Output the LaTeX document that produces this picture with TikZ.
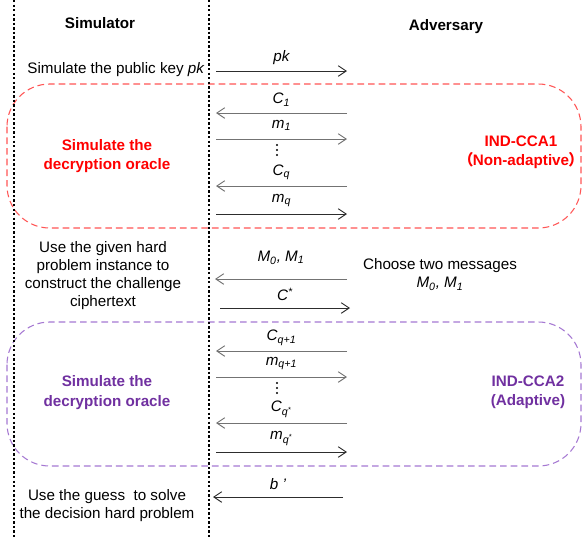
\documentclass[tikz,border=0pt]{standalone}
\usepackage{fontspec}
\setmainfont{Liberation Sans}
\newfontfamily\cjkfont{Noto Sans CJK SC}
\usetikzlibrary{arrows.meta, positioning}

\definecolor{oraclered}{RGB}{255,0,0}
\definecolor{boxred}{RGB}{255,85,85}
\definecolor{oraclepurple}{RGB}{112,48,160}
\definecolor{boxpurple}{RGB}{165,120,210}
\definecolor{msggray}{RGB}{115,115,115}
\definecolor{msgdark}{RGB}{45,45,45}

\newcommand{\sbs}[1]{\textsubscript{#1}}

\begin{document}
\begin{tikzpicture}[
    x=0.75pt, y=-0.75pt,
    font=\fontsize{11.4pt}{13.6pt}\selectfont,
    head/.style={font=\fontsize{11.4pt}{13.6pt}\selectfont\bfseries, inner sep=0pt},
    txt/.style={align=center, inner sep=0pt},
    oracle/.style={txt, font=\fontsize{11.4pt}{14.4pt}\selectfont\bfseries},
    life/.style={line width=2pt, dash pattern=on 1.8pt off 1.6pt},
    phase/.style={dash pattern=on 5pt off 3pt, line width=0.8pt, rounded corners=32pt},
    msg/.style={-{Straight Barb[length=6pt, width=8pt]}, line width=0.7pt, msggray},
    msgd/.style={msg, msgdark},
    lab/.style={font=\fontsize{11.4pt}{13.6pt}\selectfont\itshape, text=black, inner sep=0pt, midway, yshift=10pt},
    dot/.style={fill=black}
]
\useasboundingbox (0,0) rectangle (582,537);

% ===== PHASE BOXES =====
\draw[phase, boxred] (7,84) rectangle (581,228);
\draw[phase, boxpurple] (7,322) rectangle (581,466);

% ===== LIFELINES =====
\coordinate (simTop) at (14,0);
\coordinate (simBot) at (14,537);
\coordinate (advTop) at (209,0);
\coordinate (advBot) at (209,537);
\draw[life] (simTop) -- (simBot);
\draw[life] (advTop) -- (advBot);

\node[head] (SIM) at (100,23) {Simulator};
\node[head] (ADV) at (446,27) {Adversary};

% ===== SETUP =====
\node[txt] (PKTXT) at (116,70) {Simulate the public key \textit{pk}};
\coordinate (pkS) at (216,71);
\coordinate (pkA) at (347,71);
\draw[msgd] (pkS) -- (pkA) node[lab] (PKL) {pk};

% ===== QUERY PHASE 1 =====
\node[oracle, oraclered] (ORC1) at (107,156) {Simulate the\\decryption oracle};
\node[oracle, oraclered] (CCA1) at (521,152)
  {IND-CCA1\\\hspace*{-0.6em}{\cjkfont （}\kern-0.05em Non-adaptive\kern-0.05em{\cjkfont ）}\hspace*{-0.6em}};

\coordinate (c1S) at (216,113);  \coordinate (c1A) at (347,113);
\coordinate (m1S) at (216,139);  \coordinate (m1A) at (347,139);
\coordinate (cqS) at (216,186);  \coordinate (cqA) at (347,186);
\coordinate (mqS) at (216,214);  \coordinate (mqA) at (347,214);
\draw[msg] (c1A) -- (c1S) node[lab] (C1L) {C\sbs{1}};
\draw[msg] (m1S) -- (m1A) node[lab] (M1L) {m\sbs{1}};
\coordinate (dots1) at (277,150);
\foreach \dy in {-5,0,5} \fill[dot] ([yshift=\dy*0.75pt]dots1) circle (0.9pt);
\draw[msg] (cqA) -- (cqS) node[lab] (CQL) {C\sbs{q}};
\draw[msgd] (mqS) -- (mqA) node[lab] (MQL) {m\sbs{q}};

% ===== CHALLENGE =====
\node[txt] (CHTXT) at (103,275.5)
  {Use the given hard\\problem instance to\\construct the challenge\\ciphertext};
\node[txt] (CHOOSE) at (440,274.5) {Choose two messages\\\textit{M\sbs{0}, M\sbs{1}}};
\coordinate (mmS) at (215,279);  \coordinate (mmA) at (347,279);
\coordinate (csS) at (220,308);  \coordinate (csA) at (350,308);
\draw[msg] (mmA) -- (mmS) node[lab, yshift=6pt] (MML) {M\sbs{0}, M\sbs{1}};
\draw[msgd] (csS) -- (csA) node[lab] (CSL) {C\textsuperscript{*}};

% ===== QUERY PHASE 2 =====
\node[oracle, oraclepurple] (ORC2) at (107,392.5) {Simulate the\\decryption oracle};
\node[oracle, oraclepurple] (CCA2) at (528,392.5) {IND-CCA2\\(Adaptive)};

\coordinate (c2S) at (216,351);  \coordinate (c2A) at (347,351);
\coordinate (m2S) at (216,377);  \coordinate (m2A) at (347,377);
\coordinate (ctS) at (216,423);  \coordinate (ctA) at (347,423);
\coordinate (mtS) at (216,452);  \coordinate (mtA) at (347,452);
\draw[msg] (c2A) -- (c2S) node[lab] (C2L) {C\sbs{q+1}};
\draw[msg] (m2S) -- (m2A) node[lab] (M2L) {m\sbs{q+1}};
\coordinate (dots2) at (277,388);
\foreach \dy in {-5,0,5} \fill[dot] ([yshift=\dy*0.75pt]dots2) circle (0.9pt);
\draw[msg] (ctA) -- (ctS) node[lab] (CTL) {C\sbs{q\textsuperscript{*}}};
\draw[msgd] (mtS) -- (mtA) node[lab] (MTL) {m\sbs{q\textsuperscript{*}}};

% ===== GUESS =====
\node[txt] (GUESS) at (107,505.5) {Use the guess\ \ to solve\\the decision hard problem};
\coordinate (bS) at (213,497);  \coordinate (bA) at (343,497);
\draw[msgd] (bA) -- (bS) node[lab] (BL) {b ’};

\end{tikzpicture}
\end{document}
